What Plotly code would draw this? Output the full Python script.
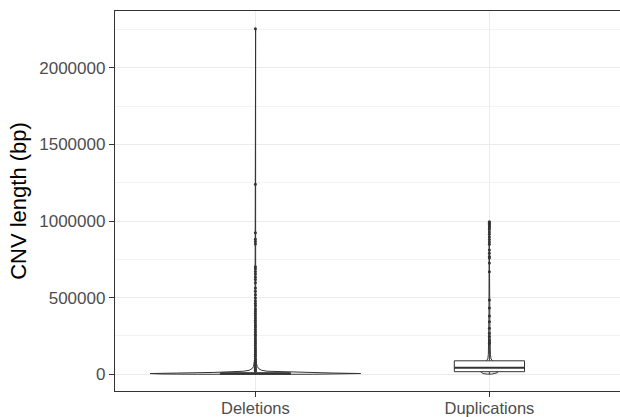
import plotly.graph_objects as go

# ---------------- data ----------------
categories = ["Deletions", "Duplications"]
cat_pos = [1, 2]

# box statistics (bp)
q1_vals = [2000, 17000]
median_vals = [4500, 43000]
q3_vals = [9500, 88000]
lower_fence = [100, 1000]
upper_fence = [20500, 194000]

# outliers (bp)
del_outliers = [2254000, 1239000, 924000, 881000, 866000, 850000, 702000, 688000,
                671000, 655000, 634000, 618000, 597000, 563000, 541000, 519000,
                497000, 478000, 462000, 447000, 428000, 413000, 398000, 384000,
                367000, 352000, 338000, 321000, 309000, 293000, 278000, 262000,
                249000, 233000, 218000, 204000, 189000, 173000, 158000, 146000,
                131000, 117000, 102000, 91000, 79000, 68000, 57000, 46000,
                38000, 31000, 25000, 22000]
dup_outliers = [995000, 990000, 984000, 977000, 969000, 961000, 954000, 944000,
                929000, 913000, 896000, 879000, 863000, 848000, 811000, 789000,
                768000, 759000, 726000, 669000, 485000, 432000, 381000, 342000,
                301000, 268000, 246000, 226000, 211000, 201000]

# violin outlines: value levels (bp) and relative half-width (0..1)
del_violin_y = [200, 2000, 5000, 8000, 12000, 16000, 20000, 26000, 35000, 50000,
                70000, 100000, 200000, 500000, 1000000, 2254000]
del_violin_w = [0.55, 0.9, 1.0, 0.75, 0.4, 0.2, 0.11, 0.06, 0.035, 0.018,
                0.01, 0.006, 0.004, 0.003, 0.002, 0.002]
dup_violin_y = [1000, 5000, 10000, 20000, 30000, 45000, 60000, 80000, 100000,
                130000, 170000, 250000, 400000, 700000, 995000]
dup_violin_w = [0.02, 0.06, 0.075, 0.09, 0.1, 0.09, 0.07, 0.04, 0.015,
                0.01, 0.007, 0.005, 0.004, 0.003, 0.002]

y_tickvals = [0, 500000, 1000000, 1500000, 2000000]
y_ticktext = ["0", "500000", "1000000", "1500000", "2000000"]

# ---------------- figure ----------------
DARK = "#333333"
fig = go.Figure()

violin_max_half = 0.45
box_half = 0.15

# violins (drawn first)
for pos, vy, vw in [(cat_pos[0], del_violin_y, del_violin_w),
                    (cat_pos[1], dup_violin_y, dup_violin_w)]:
    xs = [pos + w * violin_max_half for w in vw] + [pos - w * violin_max_half for w in reversed(vw)]
    ys = list(vy) + list(reversed(vy))
    xs.append(xs[0]); ys.append(ys[0])
    fig.add_trace(go.Scatter(x=xs, y=ys, mode="lines", fill="toself",
                             fillcolor="white", line=dict(color=DARK, width=1),
                             hoverinfo="skip", showlegend=False))

# boxplots (drawn on top), built from the box statistics
for i, pos in enumerate(cat_pos):
    fig.add_trace(go.Scatter(x=[pos, pos, None, pos, pos],
                             y=[lower_fence[i], q1_vals[i], None, q3_vals[i], upper_fence[i]],
                             mode="lines", line=dict(color=DARK, width=1),
                             hoverinfo="skip", showlegend=False))
    fig.add_trace(go.Scatter(x=[pos - box_half, pos + box_half, pos + box_half, pos - box_half, pos - box_half],
                             y=[q1_vals[i], q1_vals[i], q3_vals[i], q3_vals[i], q1_vals[i]],
                             mode="lines", fill="toself", fillcolor="white",
                             line=dict(color=DARK, width=1),
                             hoverinfo="skip", showlegend=False))
    fig.add_trace(go.Scatter(x=[pos - box_half, pos + box_half],
                             y=[median_vals[i], median_vals[i]],
                             mode="lines", line=dict(color=DARK, width=2),
                             hoverinfo="skip", showlegend=False))

for pos, outs in [(cat_pos[0], del_outliers), (cat_pos[1], dup_outliers)]:
    fig.add_trace(go.Scatter(x=[pos] * len(outs), y=outs, mode="markers",
                             marker=dict(color=DARK, size=3, symbol="circle",
                                         line=dict(width=0)),
                             showlegend=False, hoverinfo="skip"))

fig.update_layout(
    width=620, height=417,
    margin=dict(l=115, r=0, t=11, b=26),
    paper_bgcolor="white", plot_bgcolor="white",
    font=dict(family="Liberation Sans, Arial, sans-serif", color="#4D4D4D"),
    xaxis=dict(range=[0.4, 0.4 + 505 / 234], tickvals=cat_pos, ticktext=categories,
               showgrid=True, gridcolor="#EBEBEB", gridwidth=1, zeroline=False,
               showline=True, mirror=True, linecolor=DARK, linewidth=1.3,
               ticks="outside", ticklen=5, tickcolor=DARK, tickwidth=1.1,
               ticklabelstandoff=-3,
               tickfont=dict(size=16.5, color="#4D4D4D"), automargin=False),
    yaxis=dict(range=[-109000, 2370000], tickvals=y_tickvals, ticktext=y_ticktext,
               showgrid=True, gridcolor="#EBEBEB", gridwidth=1, zeroline=False,
               minor=dict(dtick=250000, tick0=0, showgrid=True,
                          gridcolor="#F3F3F3", gridwidth=1),
               showline=True, mirror=False, linecolor=DARK, linewidth=1.3,
               ticks="outside", ticklen=5, tickcolor=DARK, tickwidth=1.1,
               tickfont=dict(size=17, color="#4D4D4D"), automargin=False,
               title=dict(text="CNV length (bp)", standoff=6,
                          font=dict(size=22, color="black"))),
)

fig.write_html("out.html", config={"displayModeBar": False},
               post_script="document.body.style.margin='0';document.body.style.padding='0';")
